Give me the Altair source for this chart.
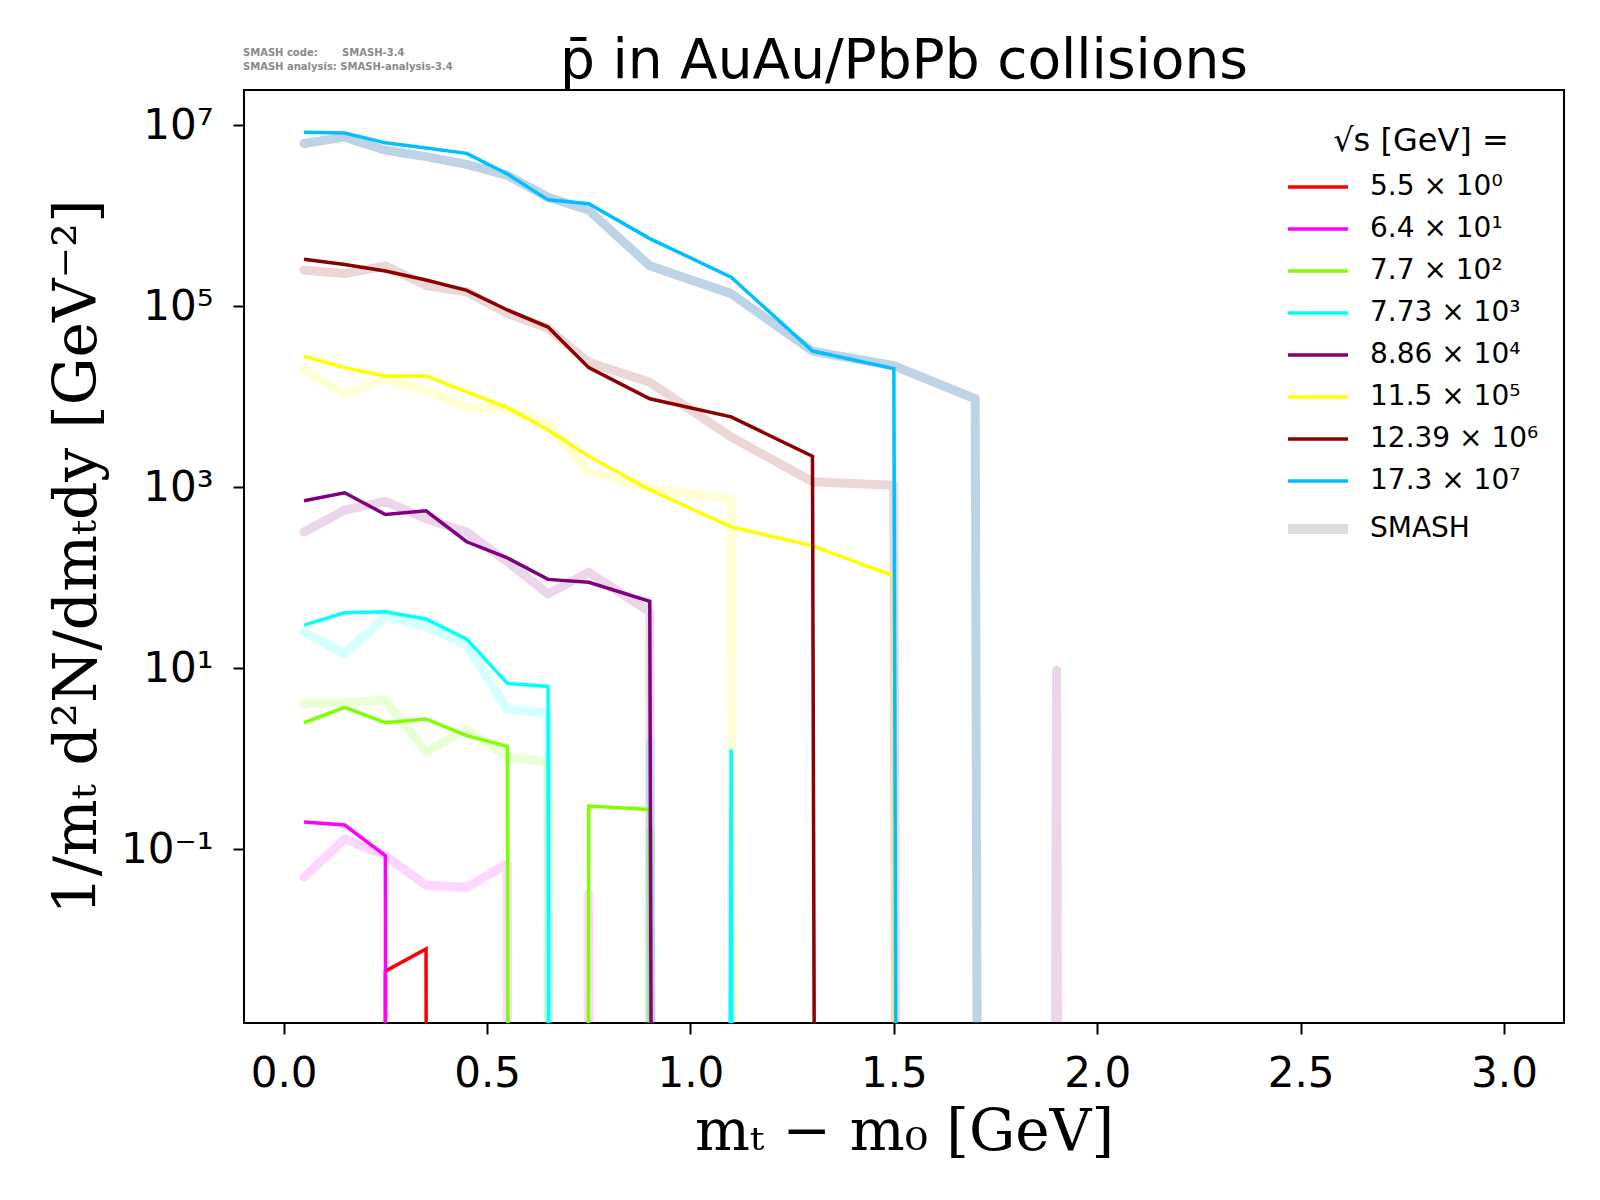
import altair as alt
import pandas as pd

# m_T - m_0 bin centres [GeV]
X_BINS = [0.05, 0.15, 0.25, 0.35, 0.45, 0.55, 0.65, 0.75, 0.9, 1.1, 1.3, 1.5, 1.7, 1.9, 2.1, 2.5, 3.0]

# measured spectra, already multiplied by the factor shown in the legend (0 = empty bin)
EXP_5_5 = [0, 0, 0.0045, 0.0079, 0, 0, 0, 0, 0, 0, 0, 0, 0, 0, 0, 0, 0]
EXP_6_4 = [0.20, 0.185, 0.085, 0, 0, 0, 0, 0, 0, 0, 0, 0, 0, 0, 0, 0, 0]
EXP_7_7 = [2.5, 3.7, 2.5, 2.75, 1.8, 1.37, 0, 0.30, 0.275, 0, 0, 0, 0, 0, 0, 0, 0]
EXP_7_73 = [30, 41, 42, 35, 21, 6.8, 6.3, 0, 0, 1.27, 0, 0, 0, 0, 0, 0, 0]
EXP_8_86 = [710, 870, 500, 550, 250, 166, 96, 89, 55, 0, 0, 0, 0, 0, 0, 0, 0]
EXP_11_5 = [2.8e4, 2.1e4, 1.7e4, 1.7e4, 1.13e4, 7.6e3, 4.3e3, 2.2e3, 940, 365, 225, 105, 0, 0, 0, 0, 0]
EXP_12_39 = [3.3e5, 2.9e5, 2.45e5, 1.95e5, 1.5e5, 9.1e4, 5.9e4, 2.1e4, 9.5e3, 6.0e3, 2.2e3, 0, 0, 0, 0, 0, 0]
EXP_17_3 = [8.4e6, 8.2e6, 6.4e6, 5.6e6, 4.9e6, 2.9e6, 1.5e6, 1.36e6, 5.6e5, 2.1e5, 3.2e4, 2.05e4, 0, 0, 0, 0, 0]

# SMASH results, same scaling
SMASH_6_4 = [0.049, 0.13, 0.085, 0.04, 0.038, 0.069, 0, 0.032, 0, 0, 0, 0, 0, 0, 0, 0, 0]
SMASH_7_7 = [4.1, 4.15, 4.4, 1.2, 2.1, 1.05, 0.92, 0, 0.155, 0, 0, 0, 0, 0, 0, 0, 0]
SMASH_7_73 = [25, 14.5, 37, 29, 18, 3.5, 3.2, 0, 1.5, 0, 0, 0, 0, 0, 0, 0, 0]
SMASH_8_86 = [320, 560, 700, 450, 320, 150, 66, 115, 42, 0, 0, 0, 0, 9.5, 0, 0, 0]
SMASH_11_5 = [2.0e4, 1.07e4, 1.6e4, 1.17e4, 7.7e3, 7.4e3, 5.0e3, 1.47e3, 980, 740, 0, 0, 0, 0, 0, 0, 0]
SMASH_12_39 = [2.5e5, 2.3e5, 2.8e5, 1.7e5, 1.45e5, 8.3e4, 5.7e4, 2.4e4, 1.45e4, 3.6e3, 1.15e3, 1.05e3, 0, 0, 0, 0, 0]
SMASH_17_3 = [6.3e6, 7.4e6, 5.3e6, 4.5e6, 3.7e6, 2.8e6, 1.6e6, 1.15e6, 2.8e5, 1.38e5, 3.2e4, 2.2e4, 9.5e3, 0, 0, 0, 0]

LABELS = ["5.5 × 10⁰", "6.4 × 10¹", "7.7 × 10²", "7.73 × 10³",
          "8.86 × 10⁴", "11.5 × 10⁵", "12.39 × 10⁶", "17.3 × 10⁷"]
COLORS = ["#ff0000", "#ff00ff", "#7fff00", "#00ffff",
          "#800080", "#ffff00", "#8b0000", "#00bfff"]
EXP = [EXP_5_5, EXP_6_4, EXP_7_7, EXP_7_73, EXP_8_86, EXP_11_5, EXP_12_39, EXP_17_3]
SMASH = [SMASH_6_4, SMASH_7_7, SMASH_7_73, SMASH_8_86, SMASH_11_5, SMASH_12_39]
SMASH_KEYS = LABELS[1:7]
SMASH_COLORS = COLORS[1:7]

Y_TICK_EXP = [-1, 1, 3, 5, 7]
X_TICKS = [0.0, 0.5, 1.0, 1.5, 2.0, 2.5, 3.0]

TITLE = "p\u0304 in AuAu/PbPb collisions"
VERSION_TEXT = "SMASH code:\u00a0\u00a0\u00a0\u00a0\u00a0\u00a0\u00a0SMASH-3.4\nSMASH analysis: SMASH-analysis-3.4"

# empty bins are pushed far below the axis (like matplotlib's log clipping)
FLOOR = 1e-300


def long_table(series_list, keys):
    rows = []
    for key, vals in zip(keys, series_list):
        for x, v in zip(X_BINS, vals):
            rows.append({"x": x, "y": v if v > 0 else FLOOR, "series": key})
    return pd.DataFrame(rows)


exp_df = long_table(EXP, LABELS)
smash_df = long_table(SMASH, SMASH_KEYS)
smash_blue_df = long_table([SMASH_17_3], [LABELS[7]])

FONT = "DejaVu Sans"
W, H = 1320, 933
x_scale = alt.Scale(domain=[-0.0975, 3.1475], nice=False, zero=False)
y_scale = alt.Scale(type="log", domain=[10 ** -2.92, 10 ** 7.39], nice=False)

sup_expr = "round(log(datum.value) / LN10)"
y_label_expr = (
    f"'10' + ({sup_expr} < 0 ? '⁻' : '') + "
    f"substring('⁰¹²³⁴⁵⁶⁷⁸⁹', abs({sup_expr}), abs({sup_expr}) + 1)"
)

x_enc = alt.X(
    "x:Q",
    scale=x_scale,
    title="mₜ − m₀ [GeV]",
    axis=alt.Axis(values=X_TICKS, format=".1f", labelFontSize=42, labelFont=FONT,
                  tickSize=11, tickWidth=2, tickColor="black", labelPadding=19,
                  titleFont="DejaVu Serif", titleFontSize=58, titleFontWeight="normal",
                  titlePadding=9, grid=False, domain=False, labelColor="black"),
)
y_enc = alt.Y(
    "y:Q",
    scale=y_scale,
    title="1/mₜ d²N/dmₜdy [GeV⁻²]",
    axis=alt.Axis(values=[10 ** e for e in Y_TICK_EXP], labelExpr=y_label_expr,
                  labelFontSize=42, labelFont=FONT, tickSize=11, tickWidth=2,
                  tickColor="black", labelPadding=20, titleFont="DejaVu Serif",
                  titleFontSize=60, titleFontWeight="normal", titlePadding=12,
                  grid=False, domain=False, labelColor="black"),
)

smash = (
    alt.Chart(smash_df)
    .mark_line(clip=True, strokeWidth=9, opacity=0.16, strokeCap="round", strokeJoin="round")
    .encode(
        x=x_enc,
        y=y_enc,
        color=alt.Color("series:N", scale=alt.Scale(domain=SMASH_KEYS, range=SMASH_COLORS), legend=None),
        detail="series:N",
    )
)

smash_blue = (
    alt.Chart(smash_blue_df)
    .mark_line(clip=True, strokeWidth=9, opacity=0.35, color="#4682b4",
               strokeCap="round", strokeJoin="round")
    .encode(x="x:Q", y="y:Q", detail="series:N")
)

exp = (
    alt.Chart(exp_df)
    .mark_line(clip=True, strokeWidth=3.5, strokeJoin="miter")
    .encode(
        x="x:Q",
        y="y:Q",
        color=alt.Color(
            "series:N",
            scale=alt.Scale(domain=LABELS + ["SMASH"], range=COLORS + ["#dddddd"]),
            legend=alt.Legend(
                title="√s  [GeV] =",
                orient="none",
                legendX=1060,
                legendY=36,
                titleFont=FONT,
                titleFontSize=32,
                titleFontWeight="normal",
                titleColor="black",
                titleAnchor="middle",
                titleLimit=600,
                titlePadding=15,
                labelFont=FONT,
                labelFontSize=28,
                labelColor="black",
                labelLimit=400,
                labelOffset=38,
                symbolType="M-2,0H2",
                symbolSize=900,
                symbolStrokeWidth=alt.ExprRef("datum.value == 'SMASH' ? 10 : 3.5"),
                rowPadding=14,
            ),
        ),
    )
)

title = (
    alt.Chart(pd.DataFrame({"t": [TITLE]}))
    .mark_text(align="center", baseline="alphabetic", fontSize=55, font=FONT, color="black")
    .encode(text="t:N", x=alt.value(W / 2), y=alt.value(-12))
)

version = (
    alt.Chart(pd.DataFrame({"t": [VERSION_TEXT]}))
    .mark_text(align="left", baseline="top", fontSize=10, font=FONT, fontWeight="bold",
               color="#8a8a8a", lineBreak="\n", lineHeight=13.5)
    .encode(text="t:N", x=alt.value(-1), y=alt.value(-42))
)

chart = (
    alt.layer(smash, smash_blue, exp, title, version)
    .resolve_scale(color="independent")
    .properties(
        width=W,
        height=H,
        autosize=alt.AutoSizeParams(type="none"),
        padding={"left": 236, "top": 82, "right": 28, "bottom": 170},
    )
    .configure(background="white")
    .configure_view(stroke="black", strokeWidth=2)
)

chart.save("out.html", embed_options={"renderer": "svg", "actions": False})
